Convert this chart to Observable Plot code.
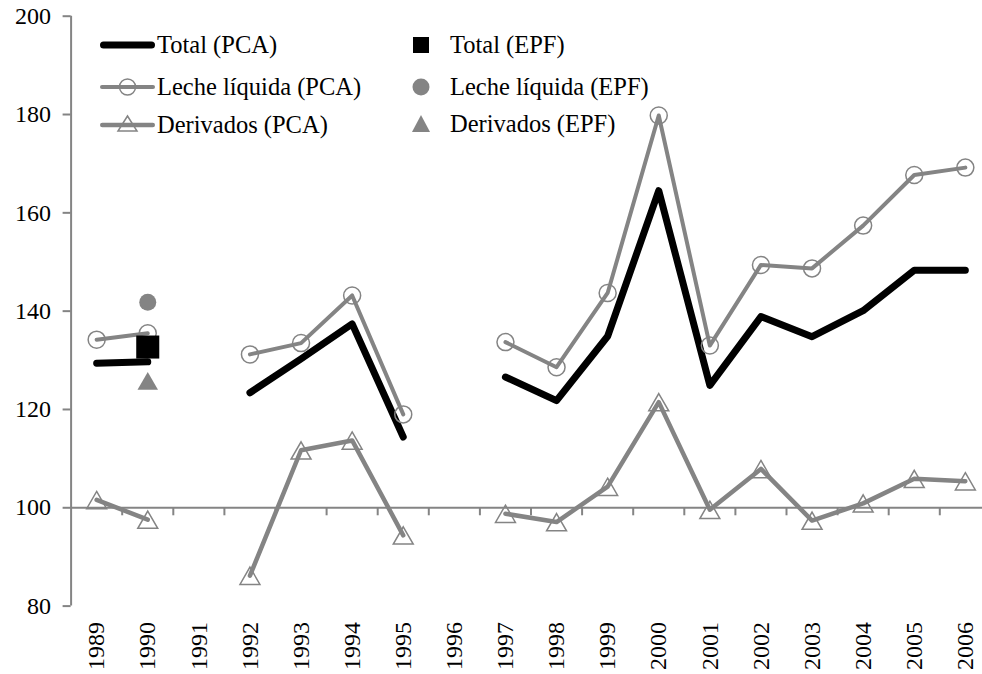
<!DOCTYPE html>
<html>
<head>
<meta charset="utf-8">
<script src="https://cdn.jsdelivr.net/npm/d3@7"></script>
<script src="https://cdn.jsdelivr.net/npm/@observablehq/plot@0.6"></script>
<style>
  html, body { margin: 0; padding: 0; background: #fff; }
  #wrap { position: relative; width: 982px; height: 674px; font-family: "Liberation Serif", "Times New Roman", serif; }
  .leg { position: absolute; height: 24px; line-height: 24px; font-size: 24.5px; display: flex; align-items: center; white-space: nowrap; color: #000; font-family: "Liberation Serif", "Times New Roman", serif; }
  .leg svg { display: block; }
</style>
</head>
<body>
<div id="wrap"></div>
<script>
// ---- Data ----
const years = [1989,1990,1991,1992,1993,1994,1995,1996,1997,1998,1999,2000,2001,2002,2003,2004,2005,2006];
const totalPCA     = [129.4,129.7,null,123.4,130.3,137.4,114.4,null,126.6,121.8,134.9,164.5,124.9,138.9,134.8,140.1,148.3,148.3];
const lechePCA     = [134.2,135.5,null,131.2,133.5,143.2,119.0,null,133.7,128.6,143.7,179.8,133.0,149.4,148.7,157.4,167.7,169.2];
const derivadosPCA = [101.6,97.6,null,86.2,111.7,113.7,94.4,null,98.8,97.1,104.3,121.5,99.6,107.9,97.4,100.9,105.9,105.4];
const epfYears     = [1990];
const totalEPF     = [132.7];
const lecheEPF     = [141.8];
const derivadosEPF = [125.6];
const yTicks = [80,100,120,140,160,180,200];
const seriesNames = ["Total (PCA)","Leche líquida (PCA)","Derivados (PCA)","Total (EPF)","Leche líquida (EPF)","Derivados (EPF)"];

const gray = "#848484";
const idx = years.map((d, i) => i);
const eidx = epfYears.map((d, i) => i);
const boundaries = years.slice(0, -1).map(y => y + 0.5);

const chart = Plot.plot({
  width: 982,
  height: 674,
  marginTop: 15.7,
  marginBottom: 68.4,
  marginLeft: 70.6,
  marginRight: 0,
  x: {type: "linear", domain: [1988.5, 2006.5], range: [70.6, 990.4]},
  y: {domain: [80, 200]},
  style: {fontFamily: "Liberation Serif, Times New Roman, serif", fontSize: "24px", background: "white", color: "black"},
  marks: [
    Plot.ruleX([1988.5], {stroke: gray, strokeWidth: 2}),
    Plot.ruleY([100], {stroke: gray, strokeWidth: 2}),
    Plot.ruleX(boundaries, {x: d => d, y1: 100, y2: 100, insetBottom: -8, stroke: gray, strokeWidth: 2}),
    Plot.axisY({ticks: yTicks, tickSize: 8, tickPadding: 12, stroke: gray, strokeWidth: 2, fontSize: 24, label: null}),
    Plot.axisX({ticks: years, tickFormat: d => String(d), tickRotate: -90, tickSize: 0, tickPadding: 16, fontSize: 24, label: null}),
    Plot.line(idx, {x: i => years[i], y: i => totalPCA[i], stroke: "black", strokeWidth: 7, strokeLinecap: "round", strokeLinejoin: "round"}),
    Plot.line(idx, {x: i => years[i], y: i => lechePCA[i], stroke: gray, strokeWidth: 4, strokeLinecap: "round", strokeLinejoin: "round"}),
    Plot.dot(idx.filter(i => lechePCA[i] != null), {x: i => years[i], y: i => lechePCA[i], r: 8.5, stroke: gray, strokeWidth: 1.5, fill: "none"}),
    Plot.line(idx, {x: i => years[i], y: i => derivadosPCA[i], stroke: gray, strokeWidth: 4.5, strokeLinecap: "round", strokeLinejoin: "round"}),
    Plot.dot(idx.filter(i => derivadosPCA[i] != null), {x: i => years[i], y: i => derivadosPCA[i], symbol: "triangle", r: 7.4, dy: 3, stroke: gray, strokeWidth: 1.5, fill: "none"}),
    Plot.dot(eidx, {x: i => epfYears[i], y: i => totalEPF[i], symbol: "square", r: 13, fill: "black", stroke: "none"}),
    Plot.dot(eidx, {x: i => epfYears[i], y: i => lecheEPF[i], r: 8.5, fill: gray, stroke: "none"}),
    Plot.dot(eidx, {x: i => epfYears[i], y: i => derivadosEPF[i], symbol: "triangle", r: 7.6, dy: 2, fill: gray, stroke: "none"})
  ]
});

const wrap = document.getElementById("wrap");
wrap.appendChild(chart);

// ---- Legend (HTML overlay inside plot area) ----
const swLine = (color, w, marker) => {
  let m = "";
  if (marker === "circle") m = `<circle cx="27.5" cy="12" r="8" fill="none" stroke="${color}" stroke-width="1.5"/>`;
  if (marker === "triangle") m = `<path d="M27.5,3 L37,18 L18,18 Z" fill="none" stroke="${color}" stroke-width="1.5"/>`;
  return `<svg width="55" height="24"><line x1="${w/2}" y1="12" x2="${55 - w/2}" y2="12" stroke="${color}" stroke-width="${w}" stroke-linecap="round"/>${m}</svg>`;
};
const swMark = (kind) => {
  if (kind === "square") return `<svg width="20" height="24"><rect x="2" y="4" width="16" height="16" fill="black"/></svg>`;
  if (kind === "circle") return `<svg width="20" height="24"><circle cx="10" cy="12" r="8.5" fill="${gray}"/></svg>`;
  return `<svg width="20" height="24"><path d="M10,3 L19,20 L1,20 Z" fill="${gray}"/></svg>`;
};
const legItems = [
  {left: 100, top: 33, sw: swLine("black", 7, null), gap: 2, text: seriesNames[0]},
  {left: 100, top: 75, sw: swLine(gray, 4, "circle"), gap: 2, text: seriesNames[1]},
  {left: 100, top: 113, sw: swLine(gray, 4.5, "triangle"), gap: 2, text: seriesNames[2]},
  {left: 411, top: 33, sw: swMark("square"), gap: 19, text: seriesNames[3]},
  {left: 411, top: 75, sw: swMark("circle"), gap: 19, text: seriesNames[4]},
  {left: 411, top: 112, sw: swMark("triangle"), gap: 19, text: seriesNames[5]}
];
for (const it of legItems) {
  const d = document.createElement("div");
  d.className = "leg";
  d.style.left = it.left + "px";
  d.style.top = it.top + "px";
  d.innerHTML = it.sw + `<span style="margin-left:${it.gap}px">${it.text}</span>`;
  wrap.appendChild(d);
}
</script>
</body>
</html>
